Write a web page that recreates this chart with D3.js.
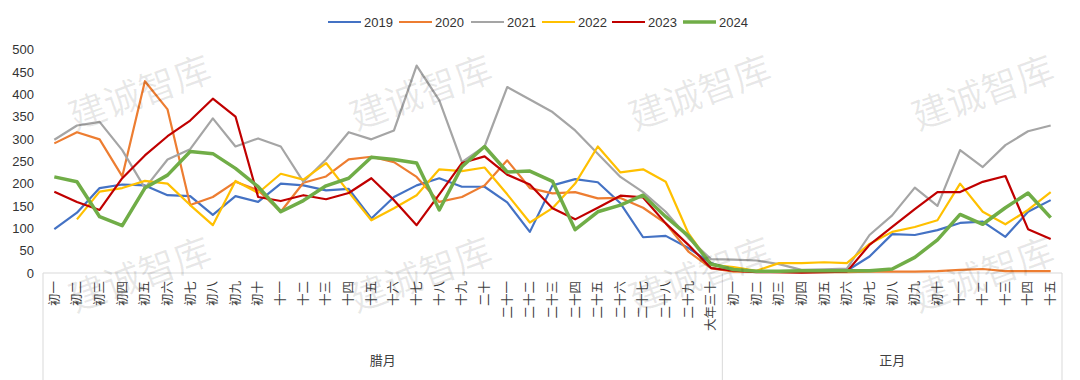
<!DOCTYPE html>
<html><head><meta charset="utf-8">
<script src="https://cdn.jsdelivr.net/npm/d3@7"></script>
<style>body{margin:0;background:#fff;}svg{display:block;}</style>
</head><body>
<svg id="c" width="1080" height="380"></svg>
<script>
const monthLa = ["初一","初二","初三","初四","初五","初六","初七","初八","初九","初十","十一","十二","十三","十四","十五","十六","十七","十八","十九","二十","二十一","二十二","二十三","二十四","二十五","二十六","二十七","二十八","二十九","大年三十"];
const monthZheng = ["初一","初二","初三","初四","初五","初六","初七","初八","初九","初十","十一","十二","十三","十四","十五"];
const groups = ["腊月","正月"];
const yTicks = [0,50,100,150,200,250,300,350,400,450,500];
const seriesNames = ["2019","2020","2021","2022","2023","2024"];
const seriesColors = ["#4472C4","#ED7D31","#A5A5A5","#FFC000","#C00000","#70AD47"];

const v2019 = [98,135,190,198,196,174,172,130,172,159,200,196,185,188,122,170,196,212,193,193,158,92,196,210,203,156,80,83,56,22, 6,3,3,4,3,5,37,87,85,96,112,115,81,137,163];
const v2020 = [290,315,299,216,429,366,152,170,204,185,137,202,216,254,260,248,215,159,170,196,252,190,178,181,167,168,146,111,48,11, 3,3,2,2,2,2,3,3,3,4,7,9,4,4,4];
const v2021 = [298,330,338,275,190,254,277,346,283,301,283,204,254,315,299,319,464,386,248,283,416,388,360,319,267,215,181,137,78,31, 30,28,20,7,8,10,85,129,191,150,275,237,286,317,330];
const v2022 = [null,120,182,190,206,200,152,107,206,179,222,209,246,181,118,145,174,232,228,236,176,113,145,200,283,225,232,204,89,18, 13,5,22,22,24,22,65,92,103,118,200,137,109,141,181];
const v2023 = [182,159,141,212,263,306,341,390,350,170,161,174,165,179,212,163,107,176,246,261,220,198,145,120,146,173,169,111,63,11, 5,2,2,1,2,3,63,103,143,181,181,204,217,98,76];
const v2024 = [215,204,126,106,190,219,272,267,234,193,137,162,195,212,259,254,246,141,238,283,226,228,205,97,137,152,174,126,83,20, 8,4,4,5,5,5,5,9,35,74,131,109,146,179,124];
const allValues = [v2019,v2020,v2021,v2022,v2023,v2024];

const cats = monthLa.map((d,i)=>"L"+i).concat(monthZheng.map((d,i)=>"Z"+i));
const catLabels = monthLa.concat(monthZheng);

const svg = d3.select("#c");
const pLeft = 43, pRight = 1062, pTop = 49.5, pBottom = 273;
const x = d3.scalePoint().domain(cats).range([pLeft,pRight]).padding(0.5);
const step = x.step();
const y = d3.scaleLinear().domain([0,500]).range([pBottom,pTop]);

// y axis labels
const yAxis = d3.axisLeft(y).tickValues(yTicks).tickSize(0).tickPadding(0);
const gy = svg.append("g").attr("transform","translate(34,0)").call(yAxis);
gy.select(".domain").remove();
gy.selectAll("text").attr("font-family","Liberation Sans, Arial, sans-serif").attr("font-size",13).attr("fill","#333");

// x axis line
svg.append("line").attr("x1",pLeft).attr("x2",pRight).attr("y1",pBottom).attr("y2",pBottom).attr("stroke","#d9d9d9").attr("stroke-width",1);
// group separators
const sepX = [pLeft, pLeft + step*monthLa.length, pRight];
sepX.forEach(sx=>{
  svg.append("line").attr("x1",sx).attr("x2",sx).attr("y1",pBottom).attr("y2",380).attr("stroke","#d9d9d9").attr("stroke-width",1);
});
// category labels
svg.append("g").selectAll("text").data(cats).join("text")
  .attr("transform",d=>`translate(${x(d)},281) rotate(-90)`)
  .attr("text-anchor","end").attr("dy","0.35em")
  .attr("font-family","Noto Sans CJK SC, sans-serif").attr("font-size",12.5).attr("fill","#404040")
  .text((d,i)=>catLabels[i]);
// group labels
svg.append("g").selectAll("text").data(groups).join("text")
  .attr("x",(d,i)=>(sepX[i]+sepX[i+1])/2).attr("y",360).attr("dy","0.35em")
  .attr("text-anchor","middle")
  .attr("font-family","Noto Sans CJK SC, sans-serif").attr("font-size",13).attr("fill","#404040")
  .text(d=>d);

// lines
const line = d3.line().defined(d=>d.v!=null).x(d=>x(d.c)).y(d=>y(d.v));
allValues.forEach((vals,si)=>{
  const data = vals.map((v,i)=>({c:cats[i],v}));
  svg.append("path").datum(data).attr("d",line).attr("fill","none")
    .attr("stroke",seriesColors[si]).attr("stroke-width",si===5?3.5:2.2)
    .attr("stroke-linejoin","round");
});

// legend
const legX = [328,399,471,542,612,683];
const lg = svg.append("g");
seriesNames.forEach((n,i)=>{
  lg.append("line").attr("x1",legX[i]).attr("x2",legX[i]+33).attr("y1",22).attr("y2",22)
    .attr("stroke",seriesColors[i]).attr("stroke-width",i===5?3.5:2.2);
  lg.append("text").attr("x",legX[i]+36).attr("y",22).attr("dy","0.35em")
    .attr("font-family","Liberation Sans, Arial, sans-serif").attr("font-size",13).attr("fill","#333").text(n);
});

// watermarks
const wmX = [140,421,700,983], wmY = [93,275];
wmY.forEach(wy=>wmX.forEach(wx=>{
  svg.append("text").attr("transform",`translate(${wx},${wy}) rotate(-20)`)
    .attr("text-anchor","middle").attr("dy","0.35em")
    .attr("font-family","Noto Sans CJK SC, sans-serif").attr("font-size",37)
    .attr("fill","#000").attr("fill-opacity",0.09).text("建诚智库");
}));
</script>
</body></html>
